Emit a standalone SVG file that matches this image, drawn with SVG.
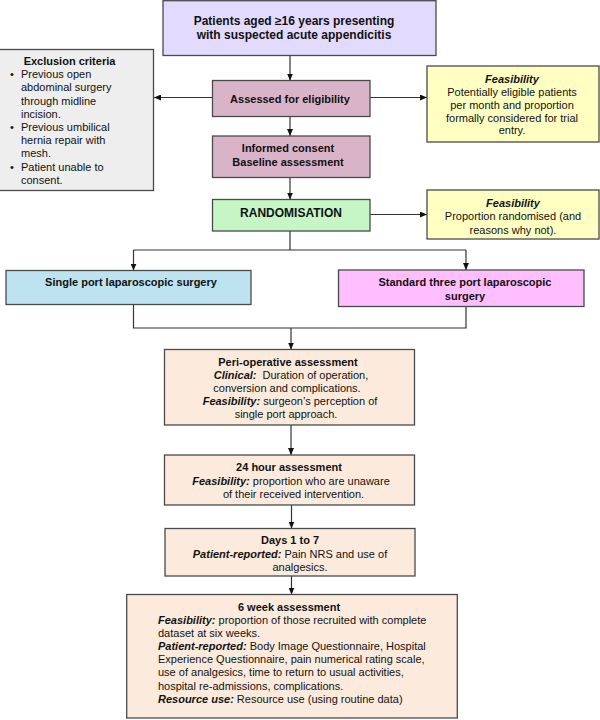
<svg xmlns="http://www.w3.org/2000/svg" width="600" height="720" viewBox="0 0 600 720">
<defs>
<marker id="ah" markerWidth="7" markerHeight="6" refX="7" refY="3" orient="auto" markerUnits="userSpaceOnUse">
<path d="M0,0 L7,3 L0,6 Z" fill="#111"/>
</marker>
<style>
.box{stroke:#4a4a4a;stroke-width:1.3}
text{font-family:"Liberation Sans",Arial,Helvetica,sans-serif;font-size:11px;fill:#111}
.c{text-anchor:middle}
.b{font-weight:bold}
.bi{font-weight:bold;font-style:italic}
.t12{font-size:12px}
.ln{fill:none;stroke:#333;stroke-width:1.2}
.peach{fill:#FCEBDC}
.yel{fill:#FFFFC2}
.mauve{fill:#D9B4C8}
</style>
</defs>
<rect width="600" height="720" fill="#ffffff"/>

<g id="connectors">
<line class="ln" x1="290" y1="55.5" x2="290" y2="80.5" marker-end="url(#ah)"/>
<line class="ln" x1="290" y1="116.5" x2="290" y2="136" marker-end="url(#ah)"/>
<line class="ln" x1="290" y1="177.5" x2="290" y2="199.5" marker-end="url(#ah)"/>
<line class="ln" x1="212.5" y1="97.5" x2="154" y2="97.5" marker-end="url(#ah)"/>
<line class="ln" x1="370" y1="97.5" x2="427" y2="97.5" marker-end="url(#ah)"/>
<line class="ln" x1="370" y1="214.5" x2="427" y2="214.5" marker-end="url(#ah)"/>
<path class="ln" d="M290,231 V250 M133.5,250 H466"/>
<line class="ln" x1="133.5" y1="250" x2="133.5" y2="270.5" marker-end="url(#ah)"/>
<line class="ln" x1="466" y1="250" x2="466" y2="270" marker-end="url(#ah)"/>
<path class="ln" d="M133.5,304.5 V328 H466 V306.5"/>
<line class="ln" x1="291" y1="328" x2="291" y2="349.5" marker-end="url(#ah)"/>
<line class="ln" x1="291" y1="425" x2="291" y2="455" marker-end="url(#ah)"/>
<line class="ln" x1="291.5" y1="505" x2="291.5" y2="528.5" marker-end="url(#ah)"/>
<line class="ln" x1="291.5" y1="576" x2="291.5" y2="594.5" marker-end="url(#ah)"/>
</g>

<g id="patients">
<rect class="box" x="163" y="0.7" width="273" height="54.8" fill="#E2DBFF"/>
<text class="c b t12" x="294" y="24.5">Patients aged ≥16 years presenting</text>
<text class="c b t12" x="294" y="38.5">with suspected acute appendicitis</text>
</g>

<g id="eligibility">
<rect class="box mauve" x="212.5" y="80.5" width="157.5" height="36"/>
<text class="c b" x="290" y="102.5">Assessed for eligibility</text>
</g>

<g id="consent">
<rect class="box mauve" x="212.5" y="136" width="157.5" height="41.5"/>
<text class="c b" x="288" y="152">Informed consent</text>
<text class="c b" x="288" y="165.5">Baseline assessment</text>
</g>

<g id="randomisation">
<rect class="box" x="212.5" y="199.5" width="157.5" height="31.5" fill="#C6F6C6"/>
<text class="c b t12" x="291" y="216.5">RANDOMISATION</text>
</g>

<g id="exclusion">
<rect class="box" x="-1" y="49.5" width="154.5" height="141" fill="#EEEEEE"/>
<text class="c b" x="69.5" y="65">Exclusion criteria</text>
<text x="10" y="78">•</text><text x="21" y="78">Previous open</text>
<text x="21" y="91.3">abdominal surgery</text>
<text x="21" y="104.5">through midline</text>
<text x="21" y="117.7">incision.</text>
<text x="10" y="130.9">•</text><text x="21" y="130.9">Previous umbilical</text>
<text x="21" y="144.1">hernia repair with</text>
<text x="21" y="157.3">mesh.</text>
<text x="10" y="170.5">•</text><text x="21" y="170.5">Patient unable to</text>
<text x="21" y="183.5">consent.</text>
</g>

<g id="feasibility1">
<rect class="box yel" x="427" y="66" width="172" height="76"/>
<text class="c bi" x="512" y="82.5">Feasibility</text>
<text class="c" x="512" y="96">Potentially eligible patients</text>
<text class="c" x="512" y="108.8">per month and proportion</text>
<text class="c" x="512" y="121.6">formally considered for trial</text>
<text class="c" x="512" y="134.4">entry.</text>
</g>

<g id="feasibility2">
<rect class="box yel" x="427" y="190" width="172" height="49"/>
<text class="c bi" x="513" y="206.5">Feasibility</text>
<text class="c" x="513" y="220">Proportion randomised (and</text>
<text class="c" x="513" y="233.5">reasons why not).</text>
</g>

<g id="single-port">
<rect class="box" x="6" y="270.5" width="245" height="34" fill="#BEE3F0"/>
<text class="c b" x="131" y="286">Single port laparoscopic surgery</text>
</g>

<g id="three-port">
<rect class="box" x="338.5" y="270" width="245.5" height="36.5" fill="#FFBEFF"/>
<text class="c b" x="465" y="286">Standard three port laparoscopic</text>
<text class="c b" x="465" y="300">surgery</text>
</g>

<g id="perioperative">
<rect class="box peach" x="164.5" y="349.5" width="250" height="75.5"/>
<text class="c b" x="288" y="366">Peri-operative assessment</text>
<text class="c" x="291" y="379"><tspan class="bi">Clinical:</tspan><tspan dx="6">Duration of operation,</tspan></text>
<text class="c" x="287" y="392">conversion and complications.</text>
<text class="c" x="290" y="405"><tspan class="bi">Feasibility:</tspan> surgeon’s perception of</text>
<text class="c" x="286" y="418">single port approach.</text>
</g>

<g id="h24">
<rect class="box peach" x="164.5" y="455" width="250" height="50"/>
<text class="c b" x="289" y="471">24 hour assessment</text>
<text class="c" x="291" y="484.5"><tspan class="bi">Feasibility:</tspan> proportion who are unaware</text>
<text class="c" x="293.5" y="497.5">of their received intervention.</text>
</g>

<g id="days">
<rect class="box peach" x="165" y="528.5" width="250" height="47.5"/>
<text class="c b" x="290" y="544">Days 1 to 7</text>
<text class="c" x="290" y="557.5"><tspan class="bi">Patient-reported:</tspan> Pain NRS and use of</text>
<text class="c" x="300" y="570.5">analgesics.</text>
</g>

<g id="week6">
<rect class="box peach" x="126.7" y="594.5" width="330.6" height="123.5"/>
<text class="c b" x="289" y="610.5">6 week assessment</text>
<text x="158" y="623.5"><tspan class="bi">Feasibility:</tspan> proportion of those recruited with complete</text>
<text x="158" y="636.7">dataset at six weeks.</text>
<text x="158" y="649.9"><tspan class="bi">Patient-reported:</tspan> Body Image Questionnaire, Hospital</text>
<text x="158" y="663.1">Experience Questionnaire, pain numerical rating scale,</text>
<text x="158" y="676.3">use of analgesics, time to return to usual activities,</text>
<text x="158" y="689.5">hospital re-admissions, complications.</text>
<text x="158" y="702.5"><tspan class="bi">Resource use:</tspan> Resource use (using routine data)</text>
</g>
</svg>
